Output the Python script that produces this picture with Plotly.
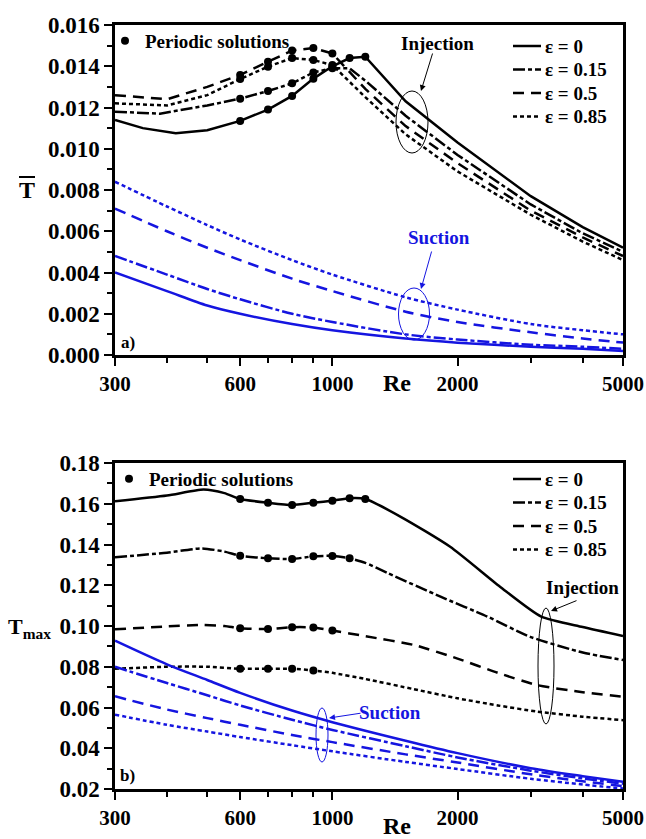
import math
import plotly.graph_objects as go

# ---------------- data: panel a) mean temperature ----------------
inj_a_e0_re = [300, 350, 420, 500, 600, 700, 800, 900, 1000, 1100, 1200, 1500, 2000, 3000, 4000, 5000]
inj_a_e0 = [0.0114, 0.0110, 0.01075, 0.0109, 0.01135, 0.0119, 0.01256, 0.0134, 0.0140, 0.0144, 0.01446, 0.0123, 0.0103, 0.0077, 0.0062, 0.0052]

inj_a_e15_re = [300, 385, 500, 600, 700, 800, 900, 1000, 1100, 1200, 1500, 2000, 3000, 4000, 5000]
inj_a_e15 = [0.0118, 0.0117, 0.0121, 0.01243, 0.0128, 0.01317, 0.0137, 0.0139, 0.0139, 0.0133, 0.0116, 0.0097, 0.0073, 0.0059, 0.0050]

inj_a_e50_re = [300, 400, 500, 600, 700, 800, 900, 1000, 1200, 1500, 2000, 3000, 4000, 5000]
inj_a_e50 = [0.0126, 0.0124, 0.0130, 0.01358, 0.01422, 0.01476, 0.01488, 0.01462, 0.0129, 0.0111, 0.0093, 0.0070, 0.0057, 0.0048]

inj_a_e85_re = [300, 400, 500, 600, 700, 800, 900, 1000, 1200, 1500, 2000, 3000, 4000, 5000]
inj_a_e85 = [0.0122, 0.0121, 0.0126, 0.01338, 0.01398, 0.01440, 0.01430, 0.01406, 0.0125, 0.0107, 0.0089, 0.0068, 0.0055, 0.0046]

suc_re = [300, 400, 500, 600, 800, 1000, 1500, 2000, 3000, 4000, 5000]
suc_a_e0 = [0.0040, 0.0031, 0.0024, 0.0020, 0.0015, 0.0012, 0.0008, 0.0006, 0.0004, 0.0003, 0.0002]
suc_a_e15 = [0.0048, 0.0039, 0.0032, 0.0027, 0.0020, 0.0016, 0.0010, 0.00075, 0.0005, 0.0004, 0.0003]
suc_a_e50 = [0.0071, 0.0060, 0.0052, 0.0046, 0.0037, 0.0031, 0.0021, 0.0016, 0.0011, 0.0008, 0.0006]
suc_a_e85 = [0.0084, 0.0072, 0.0063, 0.0056, 0.0046, 0.0039, 0.0028, 0.0022, 0.0015, 0.0012, 0.0010]

# periodic solutions, panel a)
per_a_e0_re = [600, 700, 800, 900, 1000, 1100, 1200]
per_a_e0 = [0.01135, 0.0119, 0.01256, 0.0134, 0.0140, 0.0144, 0.01446]
per_a_e15_re = [600, 700, 800, 900, 1000]
per_a_e15 = [0.01243, 0.0128, 0.01317, 0.0137, 0.0139]
per_a_e50_re = [600, 700, 800, 900, 1000]
per_a_e50 = [0.01358, 0.01422, 0.01476, 0.01488, 0.01462]
per_a_e85_re = [600, 700, 800, 900, 1000]
per_a_e85 = [0.01338, 0.01398, 0.01440, 0.01430, 0.01406]

# ---------------- data: panel b) maximum temperature ----------------
inj_b_e0_re = [300, 400, 490, 550, 600, 700, 800, 900, 1000, 1100, 1200, 1460, 1920, 2530, 3180, 4000, 5000]
inj_b_e0 = [0.1612, 0.1640, 0.1670, 0.1652, 0.1623, 0.1605, 0.1594, 0.1605, 0.1615, 0.1627, 0.1623, 0.1536, 0.1389, 0.1193, 0.1046, 0.0995, 0.0951]

inj_b_e15_re = [300, 400, 485, 550, 600, 700, 800, 900, 1000, 1100, 1200, 1360, 1820, 2360, 2990, 4000, 5000]
inj_b_e15 = [0.1337, 0.1360, 0.1381, 0.1365, 0.1345, 0.1332, 0.1329, 0.1342, 0.1344, 0.1332, 0.1310, 0.1259, 0.1144, 0.1046, 0.0947, 0.0870, 0.0833]

inj_b_e50_re = [300, 400, 485, 550, 600, 700, 800, 900, 1000, 1200, 1570, 2000, 2500, 3110, 4000, 5000]
inj_b_e50 = [0.0984, 0.0998, 0.1005, 0.1000, 0.0989, 0.0985, 0.0994, 0.0993, 0.0978, 0.0950, 0.0907, 0.0840, 0.0770, 0.0710, 0.0675, 0.0653]

inj_b_e85_re = [300, 400, 500, 600, 700, 800, 900, 1000, 1200, 1570, 2000, 2500, 3110, 4000, 5000]
inj_b_e85 = [0.0790, 0.0800, 0.0800, 0.0790, 0.0790, 0.0790, 0.0782, 0.0770, 0.0740, 0.0690, 0.0645, 0.0610, 0.0580, 0.0555, 0.0538]

suc_b_e0 = [0.0928, 0.0812, 0.0735, 0.0672, 0.0585, 0.0528, 0.0437, 0.0376, 0.0302, 0.0263, 0.0236]
suc_b_e15 = [0.0800, 0.0720, 0.0660, 0.0610, 0.0540, 0.0490, 0.0410, 0.0355, 0.0290, 0.0252, 0.0226]
suc_b_e50 = [0.0655, 0.0590, 0.0548, 0.0515, 0.0465, 0.0430, 0.0370, 0.0330, 0.0272, 0.0238, 0.0214]
suc_b_e85 = [0.0565, 0.0515, 0.0482, 0.0455, 0.0415, 0.0385, 0.0333, 0.0298, 0.0250, 0.0222, 0.0202]

per_b_e0_re = [600, 700, 800, 900, 1000, 1100, 1200]
per_b_e0 = [0.1623, 0.1605, 0.1594, 0.1605, 0.1615, 0.1627, 0.1623]
per_b_e15_re = [600, 700, 800, 900, 1000, 1100]
per_b_e15 = [0.1345, 0.1332, 0.1329, 0.1342, 0.1344, 0.1332]
per_b_e50_re = [600, 700, 800, 900, 1000]
per_b_e50 = [0.0989, 0.0985, 0.0994, 0.0993, 0.0978]
per_b_e85_re = [600, 700, 800, 900]
per_b_e85 = [0.0790, 0.0790, 0.0790, 0.0782]

eps_names = ["ε = 0", "ε = 0.15", "ε = 0.5", "ε = 0.85"]
x_ticks = [300, 600, 1000, 2000, 5000]
x_minor = [400, 500, 700, 800, 900, 3000, 4000]
ya_ticks = [0.000, 0.002, 0.004, 0.006, 0.008, 0.010, 0.012, 0.014, 0.016]
yb_ticks = [0.02, 0.04, 0.06, 0.08, 0.10, 0.12, 0.14, 0.16, 0.18]

# ---------------- styling ----------------
FONT = "'Liberation Serif', 'Times New Roman', Times, serif"
BLACK = "black"
BLUE = "#1515e0"
dashes = ["solid", "12px,3px,4px,3px", "11px,7px", "4px,3px"]
LW = 2.5

# page body margin is removed by post_script, so page pixels == figure pixels
W, H = 646, 839
PLOT_L, PLOT_R, PLOT_T, PLOT_B = 115, 623, 25, 789  # page pixels
L, R, T, B = PLOT_L, W - PLOT_R, PLOT_T, H - PLOT_B
PW = W - L - R
PH = H - T - B


def pxx(x):
    return (x - L) / PW


def pyy(y):
    return (H - B - y) / PH


fig = go.Figure()

inj_a = [(inj_a_e0_re, inj_a_e0), (inj_a_e15_re, inj_a_e15), (inj_a_e50_re, inj_a_e50), (inj_a_e85_re, inj_a_e85)]
inj_b = [(inj_b_e0_re, inj_b_e0), (inj_b_e15_re, inj_b_e15), (inj_b_e50_re, inj_b_e50), (inj_b_e85_re, inj_b_e85)]
suc_a = [suc_a_e0, suc_a_e15, suc_a_e50, suc_a_e85]
suc_b = [suc_b_e0, suc_b_e15, suc_b_e50, suc_b_e85]

for i, (xs, ys) in enumerate(inj_a):
    fig.add_trace(go.Scatter(x=xs, y=ys, mode="lines", name=eps_names[i], showlegend=False,
                             line=dict(color=BLACK, width=LW, dash=dashes[i]),
                             xaxis="x", yaxis="y"))
for i, ys in enumerate(suc_a):
    fig.add_trace(go.Scatter(x=suc_re, y=ys, mode="lines", showlegend=False,
                             line=dict(color=BLUE, width=LW, dash=dashes[i], shape="spline", smoothing=0.8),
                             xaxis="x", yaxis="y"))
for i, (xs, ys) in enumerate(inj_b):
    fig.add_trace(go.Scatter(x=xs, y=ys, mode="lines", name=eps_names[i], showlegend=False,
                             line=dict(color=BLACK, width=LW, dash=dashes[i], shape="spline", smoothing=0.6),
                             xaxis="x2", yaxis="y2"))
for i, ys in enumerate(suc_b):
    fig.add_trace(go.Scatter(x=suc_re, y=ys, mode="lines", showlegend=False,
                             line=dict(color=BLUE, width=LW, dash=dashes[i], shape="spline", smoothing=0.8),
                             xaxis="x2", yaxis="y2"))

per_a_x = per_a_e0_re + per_a_e15_re + per_a_e50_re + per_a_e85_re
per_a_y = per_a_e0 + per_a_e15 + per_a_e50 + per_a_e85
per_b_x = per_b_e0_re + per_b_e15_re + per_b_e50_re + per_b_e85_re
per_b_y = per_b_e0 + per_b_e15 + per_b_e50 + per_b_e85
fig.add_trace(go.Scatter(x=per_a_x, y=per_a_y, mode="markers", name="Periodic solutions",
                         marker=dict(color=BLACK, size=8), xaxis="x", yaxis="y", legend="legend"))
fig.add_trace(go.Scatter(x=per_b_x, y=per_b_y, mode="markers", name="Periodic solutions",
                         marker=dict(color=BLACK, size=8), xaxis="x2", yaxis="y2", legend="legend2"))

xtickfont = dict(family=FONT, size=21, color=BLACK, weight="bold")
ytickfont = dict(family=FONT, size=23, color=BLACK, weight="bold")
common_x = dict(type="log", range=[math.log10(300), math.log10(5000)],
                tickmode="array", tickvals=x_ticks, ticktext=[str(v) for v in x_ticks],
                ticks="outside", ticklen=8, tickwidth=2, tickcolor=BLACK,
                minor=dict(tickmode="array", tickvals=x_minor, ticks="outside", ticklen=5, tickwidth=2, tickcolor=BLACK),
                showline=True, linewidth=2.5, linecolor=BLACK, mirror=True,
                showgrid=False, zeroline=False, tickfont=xtickfont, automargin=False)
common_y = dict(ticks="outside", ticklen=8, tickwidth=2, tickcolor=BLACK,
                showline=True, linewidth=2.5, linecolor=BLACK, mirror=True,
                showgrid=False, zeroline=False, tickfont=ytickfont, tickmode="array", automargin=False)

legfont = dict(family=FONT, size=19, color=BLACK, weight="bold")
fig.update_layout(
    width=W, height=H,
    margin=dict(l=L, r=R, t=T, b=B, autoexpand=False),
    paper_bgcolor="white", plot_bgcolor="white",
    font=dict(family=FONT, color=BLACK),
    xaxis=dict(common_x, anchor="y", domain=[0, 1]),
    yaxis=dict(common_y, anchor="x", domain=[pyy(355), 1.0], range=[0, 0.016],
               tickvals=ya_ticks, ticktext=["%.3f" % v for v in ya_ticks],
               minor=dict(dtick=0.001, ticks="outside", ticklen=5, tickwidth=2, tickcolor=BLACK)),
    xaxis2=dict(common_x, anchor="y2", domain=[0, 1]),
    yaxis2=dict(common_y, anchor="x2", domain=[0, pyy(463)], range=[0.02, 0.18],
                tickvals=yb_ticks, ticktext=["%.2f" % v for v in yb_ticks],
                minor=dict(dtick=0.01, tick0=0.0, ticks="outside", ticklen=5, tickwidth=2, tickcolor=BLACK)),
    legend=dict(x=pxx(105), y=pyy(22), xanchor="left", yanchor="top", bgcolor="rgba(0,0,0,0)",
                font=legfont, itemwidth=30),
    legend2=dict(x=pxx(109), y=pyy(460), xanchor="left", yanchor="top", bgcolor="rgba(0,0,0,0)",
                 font=legfont, itemwidth=30),
)


def txt(x, y, s, size=19, color=BLACK, xanchor="center"):
    fig.add_annotation(x=pxx(x), y=pyy(y), xref="paper", yref="paper", text=s, showarrow=False,
                       xanchor=xanchor, yanchor="middle",
                       font=dict(family=FONT, size=size, color=color, weight="bold"))


def arrow(tx, ty, hx, hy, color):
    fig.add_annotation(x=pxx(hx), y=pyy(hy), xref="paper", yref="paper", text="",
                       showarrow=True, ax=tx - hx, ay=ty - hy, arrowhead=2, arrowsize=1.2,
                       arrowwidth=1, arrowcolor=color, standoff=0, startstandoff=0)


def ellipse(cx, cy, w, h, color):
    fig.add_shape(type="circle", xref="paper", yref="paper",
                  x0=pxx(cx - w / 2), x1=pxx(cx + w / 2), y0=pyy(cy + h / 2), y1=pyy(cy - h / 2),
                  line=dict(color=color, width=1))


def legend_block(top_y):
    # manual legend key: line sample + label
    for i, name in enumerate(eps_names):
        yy = top_y + i * 23.5
        fig.add_shape(type="line", xref="paper", yref="paper",
                      x0=pxx(513), x1=pxx(541), y0=pyy(yy), y1=pyy(yy),
                      line=dict(color=BLACK, width=LW, dash=dashes[i]))
        txt(543, yy, name, size=19, xanchor="left")


legend_block(46)
legend_block(479)

txt(128, 342, "a)", size=17)
txt(127, 775, "b)", size=17)
txt(437, 43, "Injection")
txt(439, 238, "Suction", color=BLUE)
txt(582, 587, "Injection")
txt(390, 712, "Suction", color=BLUE)
txt(397, 383, "Re", size=24)
txt(397, 826, "Re", size=24)
txt(27, 190, "T", size=24)
fig.add_shape(type="line", xref="paper", yref="paper", x0=pxx(19), x1=pxx(35), y0=pyy(177), y1=pyy(177),
              line=dict(color=BLACK, width=2))
txt(29, 628, "T<sub>max</sub>", size=22)

ellipse(412, 122, 32, 62, BLACK)
ellipse(414, 314, 31, 52, BLUE)
ellipse(546, 666, 16, 116, BLACK)
ellipse(322, 735, 12, 54, BLUE)

arrow(433, 52, 421, 91, BLACK)
arrow(432, 250, 421, 289, BLUE)
arrow(578, 600, 551, 611, BLACK)
arrow(362, 713, 329, 718, BLUE)

fig.write_html("out.html",
               config={"displayModeBar": False},
               post_script="document.body.style.margin='0';document.body.style.overflow='hidden';")
